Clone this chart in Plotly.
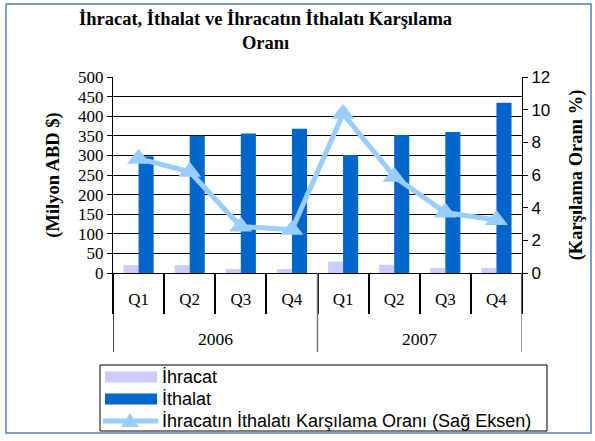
import plotly.graph_objects as go

years = ["2006"] * 4 + ["2007"] * 4
year_labels = ["2006", "2007"]
quarters = ["Q1", "Q2", "Q3", "Q4", "Q1", "Q2", "Q3", "Q4"]
ihracat = [20, 20, 10, 10, 29, 21, 13, 13]
ithalat = [298, 350, 356, 368, 301, 352, 360, 434]
oran = [7.0, 6.2, 2.85, 2.65, 9.75, 5.9, 3.7, 3.25]
series_names = ["İhracat", "İthalat", "İhracatın İthalatı Karşılama Oranı (Sağ Eksen)"]
colors = ["#CCCCFF", "#0066CC", "#99CCFF"]

W, H = 595, 441
L, R, T, B = 113, 73, 77, 168
pw, ph = W - L - R, H - T - B

def px(x):
    return (x - L) / pw

def py(y):
    return (H - B - y) / ph

serif = "Liberation Serif"
sans = "Liberation Sans"

cats = [f"{y} {q}" for y, q in zip(years, quarters)]

fig = go.Figure()
fig.add_trace(go.Bar(x=cats, y=ihracat, name=series_names[0], showlegend=False,
                     marker=dict(color=colors[0], line=dict(width=0))))
fig.add_trace(go.Bar(x=cats, y=ithalat, name=series_names[1], showlegend=False,
                     marker=dict(color=colors[1], line=dict(width=0))))
fig.add_trace(go.Scatter(x=cats, y=oran, yaxis="y2", name=series_names[2], showlegend=False,
                         mode="lines+markers",
                         line=dict(color=colors[2], width=5),
                         marker=dict(symbol="triangle-up", size=20, color=colors[2])))

fig.update_layout(
    width=W, height=H,
    margin=dict(l=L, r=R, t=T, b=B, autoexpand=False),
    paper_bgcolor="white", plot_bgcolor="white",
    barmode="group", bargap=0.41, bargroupgap=0,
    xaxis=dict(type="category", tickmode="array", tickvals=cats,
               ticktext=quarters, tickson="boundaries", range=[-0.5, len(cats) - 0.5],
               showline=True, linecolor="black", linewidth=1,
               ticks="outside", ticklen=40, tickcolor="black", tickwidth=1.5,
               ticklabelstandoff=11, showgrid=False, zeroline=False,
               tickfont=dict(family=serif, size=17, color="black")),
    yaxis=dict(range=[0, 500], dtick=50, showgrid=True, gridcolor="black", gridwidth=1,
               showline=True, linecolor="black", ticks="outside", ticklen=5,
               tickcolor="black", zeroline=False,
               tickfont=dict(family=serif, size=17, color="black"),
               title=dict(text="<b>(Milyon ABD $)</b>", standoff=13,
                          font=dict(family=serif, size=18.5, color="black"))),
    yaxis2=dict(range=[0, 12], dtick=2, overlaying="y", side="right", showgrid=False,
                showline=True, linecolor="black", ticks="outside", ticklen=5,
                tickcolor="black", zeroline=False,
                tickfont=dict(family=sans, size=17, color="black"),
                title=dict(text="<b>(Karşılama Oranı %)</b>", standoff=19,
                           font=dict(family=serif, size=18.5, color="black"))),
    showlegend=False,
)

fig.add_annotation(text="<b>İhracat, İthalat ve İhracatın İthalatı Karşılama<br>Oranı</b>",
                   xref="paper", yref="paper", x=px(265), y=py(7),
                   xanchor="center", yanchor="top", showarrow=False,
                   font=dict(family=serif, size=18.5, color="black"))

# year group dividers and labels
for b in [-0.5, 3.5, 7.5]:
    fig.add_shape(type="line", xref="x", yref="paper", x0=b, x1=b,
                  y0=py(273), y1=py(352),
                  line=dict(color="black" if b == -0.5 else "#777777", width=1.5))
for i, yl in enumerate(year_labels):
    fig.add_annotation(text=yl, xref="x", yref="paper", x=1.5 + 4 * i, y=py(339),
                       xanchor="center", yanchor="middle", showarrow=False,
                       font=dict(family=serif, size=17.5, color="black"))

# legend (drawn manually to match the wide swatches)
fig.add_shape(type="rect", xref="paper", yref="paper",
              x0=px(100), x1=px(547), y0=py(431), y1=py(365),
              line=dict(color="black", width=1), fillcolor="white")
rows = [377, 399, 421]
for i, name in enumerate(series_names):
    yc = rows[i]
    if i < 2:
        fig.add_shape(type="rect", xref="paper", yref="paper",
                      x0=px(105), x1=px(157), y0=py(yc + 5.5), y1=py(yc - 5.5),
                      line=dict(width=0), fillcolor=colors[i])
    else:
        fig.add_shape(type="line", xref="paper", yref="paper",
                      x0=px(103), x1=px(158), y0=py(yc), y1=py(yc),
                      line=dict(color=colors[i], width=5))
        fig.add_shape(type="path", xref="paper", yref="paper",
                      path=(f"M {px(121)} {py(yc + 6)} L {px(139)} {py(yc + 6)} "
                            f"L {px(130)} {py(yc - 8)} Z"),
                      line=dict(width=0), fillcolor=colors[i])
    fig.add_annotation(text=name, xref="paper", yref="paper", x=px(160), y=py(yc),
                       xanchor="left", yanchor="middle", showarrow=False,
                       font=dict(family=sans, size=18, color="black"))

fig.add_shape(type="rect", xref="paper", yref="paper",
              x0=px(6), x1=px(591), y0=py(433), y1=py(4),
              line=dict(color="#4F81BD", width=1.5), layer="below")

fig.write_html("out.html", post_script="document.body.style.margin='0';",
               config={"displayModeBar": False})
